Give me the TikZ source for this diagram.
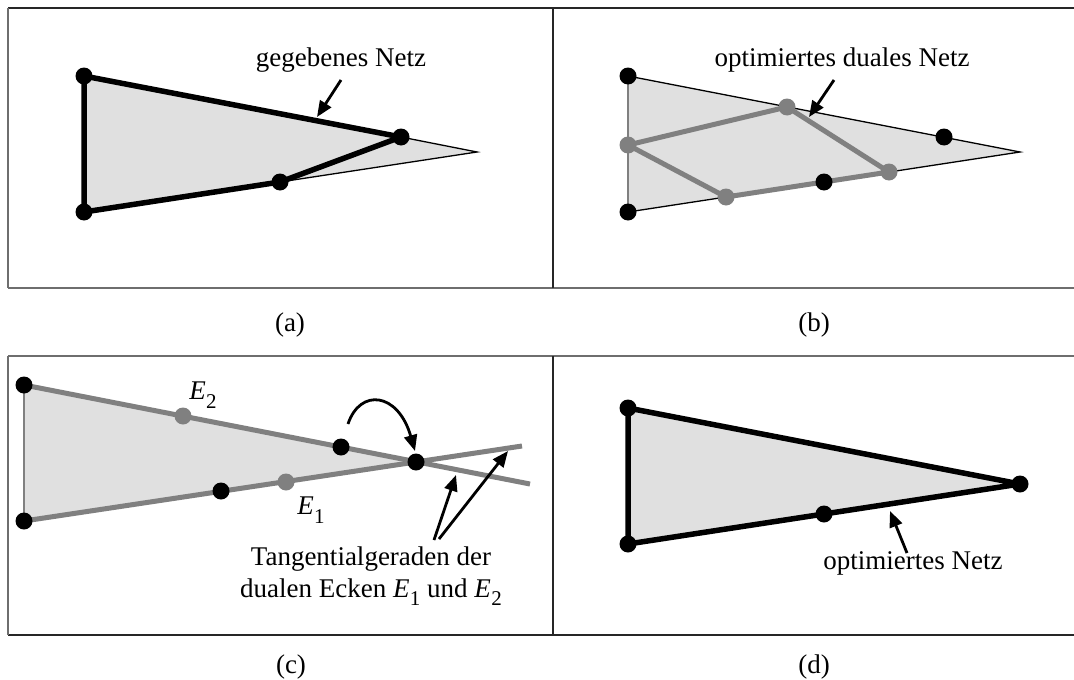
\documentclass[tikz,border=0pt]{standalone}
\usepackage{fontspec}
\setmainfont{Liberation Serif}
\usetikzlibrary{arrows.meta}
\definecolor{dgray}{RGB}{128,128,128}
\definecolor{lfill}{RGB}{224,224,224}
\definecolor{frame}{RGB}{110,110,110}
\newcommand\Esub[1]{\textit{E}\kern0.3pt\raisebox{-0.32em}{\fontsize{21}{21}\selectfont #1}}
\tikzset{
  bdot/.style={circle,fill=black,inner sep=0pt,minimum size=17pt},
  gdot/.style={circle,fill=dgray,inner sep=0pt,minimum size=17pt},
  thickblack/.style={line width=5.5pt,line join=round,draw=black},
  thickgray/.style={line width=5pt,line join=round,draw=dgray},
  thinblack/.style={line width=1.3pt,draw=black},
  thingray/.style={line width=2pt,draw=dgray},
  lbl/.style={font=\fontsize{27}{32}\selectfont,inner sep=0pt},
  pointer/.style={line width=2.8pt,-{Triangle[length=16pt,width=13pt]}},
  framegray/.style={line width=2.4pt,draw=frame},
  framedark/.style={line width=1.8pt,draw=black!85}
}
\begin{document}
\begin{tikzpicture}[x=1pt,y=-1pt]
\useasboundingbox (0,0) rectangle (1074,680);
\fill[white] (0,0) rectangle (1074,680);
% frames
\coordinate (F1) at (8,8); \coordinate (F2) at (1074,8);
\coordinate (F3) at (8,288); \coordinate (F4) at (1074,288);
\coordinate (F5) at (8,356); \coordinate (F6) at (1074,356);
\coordinate (F7) at (8,635); \coordinate (F8) at (1074,635);
\coordinate (V1) at (553,8); \coordinate (V2) at (553,288);
\coordinate (V3) at (553,356); \coordinate (V4) at (553,635);
\draw[framedark] (F1) -- (F2);
\draw[framegray] (F3) -- (F4);
\draw[framegray] (F1) -- (F3);
\draw[framegray] (F5) -- (F6);
\draw[framedark] (F7) -- (F8);
\draw[framegray] (F5) -- (F7);
\draw[framedark] (V1) -- (V2);
\draw[framedark] (V3) -- (V4);
% captions
\node[lbl] (capa) at (290,325) {(a)};
\node[lbl] (capb) at (814,325) {(b)};
\node[lbl] (capc) at (291,667) {(c)};
\node[lbl] (capd) at (814,667) {(d)};

% ---------- panel (a)
\coordinate (A1) at (84,76); \coordinate (A2) at (84,212);
\coordinate (A3) at (401,137); \coordinate (A4) at (280,182);
\coordinate (At) at (477,152);
\fill[lfill] (A1) -- (At) -- (A2) -- cycle;
\draw[thinblack] (A3) -- (At) -- (A4);
\draw[thickblack] (A1) -- (A3) -- (A4) -- (A2) -- cycle;
\foreach \p in {A1,A2,A3,A4} \node[bdot] (d\p) at (\p) {};
\node[lbl] (ta) at (341,60) {gegebenes Netz};
\coordinate (ta1) at (341,80); \coordinate (ta2) at (317,117);
\draw[pointer] (ta1) -- (ta2);

% ---------- panel (b)
\coordinate (B1) at (628,76); \coordinate (B2) at (628,212);
\coordinate (Bt) at (1020,152);
\coordinate (B3) at (944,137); \coordinate (B4) at (824,182);
\coordinate (G1) at (628,145); \coordinate (G2) at (787,107);
\coordinate (G3) at (889,172); \coordinate (G4) at (726,197);
\fill[lfill] (B1) -- (Bt) -- (B2) -- cycle;
\draw[thinblack] (B1) -- (Bt) -- (B2);
\draw[thingray] (B1) -- (B2);
\draw[thickgray] (G1) -- (G2) -- (G3) -- (G4) -- cycle;
\foreach \p in {B1,B2,B3,B4} \node[bdot] (d\p) at (\p) {};
\foreach \p in {G1,G2,G3,G4} \node[gdot] (d\p) at (\p) {};
\node[lbl] (tb) at (842,60) {optimiertes duales Netz};
\coordinate (tb1) at (834,80); \coordinate (tb2) at (809,117);
\draw[pointer] (tb1) -- (tb2);

% ---------- panel (c)
\coordinate (C1) at (24,385); \coordinate (C2) at (24,521);
\coordinate (X) at (416,462);
\coordinate (Cu) at (341,447); \coordinate (Cl) at (221,491);
\coordinate (E2) at (183,416); \coordinate (E1) at (286,482);
\coordinate (Ue) at (530,484); \coordinate (Le) at (522,446);
\fill[lfill] (C1) -- (X) -- (C2) -- cycle;
\draw[thingray] (C1) -- (C2);
\draw[thickgray] (C1) -- (Ue);
\draw[thickgray] (C2) -- (Le);
\foreach \p in {C1,C2,X,Cu,Cl} \node[bdot] (d\p) at (\p) {};
\foreach \p in {E1,E2} \node[gdot] (d\p) at (\p) {};
\node[lbl] (le2) at (203,395) {\Esub{2}};
\node[lbl] (le1) at (311,510) {\Esub{1}};
\coordinate (cs) at (348,424); \coordinate (ce) at (415,451);
\draw[pointer] (cs) .. controls (360,388) and (398,392) .. (ce);
\node[lbl,align=center] (tc) at (371,576) {Tangentialgeraden der\\dualen Ecken \Esub{1} und \Esub{2}};
\coordinate (tc1) at (434,540); \coordinate (tc2) at (456,475);
\coordinate (tc3) at (439,539); \coordinate (tc4) at (508,451);
\draw[pointer] (tc1) -- (tc2);
\draw[pointer] (tc3) -- (tc4);

% ---------- panel (d)
\coordinate (D1) at (628,408); \coordinate (D2) at (628,544);
\coordinate (D3) at (1020,484); \coordinate (D4) at (824,514);
\fill[lfill] (D1) -- (D3) -- (D2) -- cycle;
\draw[thickblack] (D1) -- (D3) -- (D4) -- (D2) -- cycle;
\foreach \p in {D1,D2,D3,D4} \node[bdot] (d\p) at (\p) {};
\node[lbl] (td) at (913,563) {optimiertes Netz};
\coordinate (td1) at (907,553); \coordinate (td2) at (890,511);
\draw[pointer] (td1) -- (td2);
\end{tikzpicture}
\end{document}
